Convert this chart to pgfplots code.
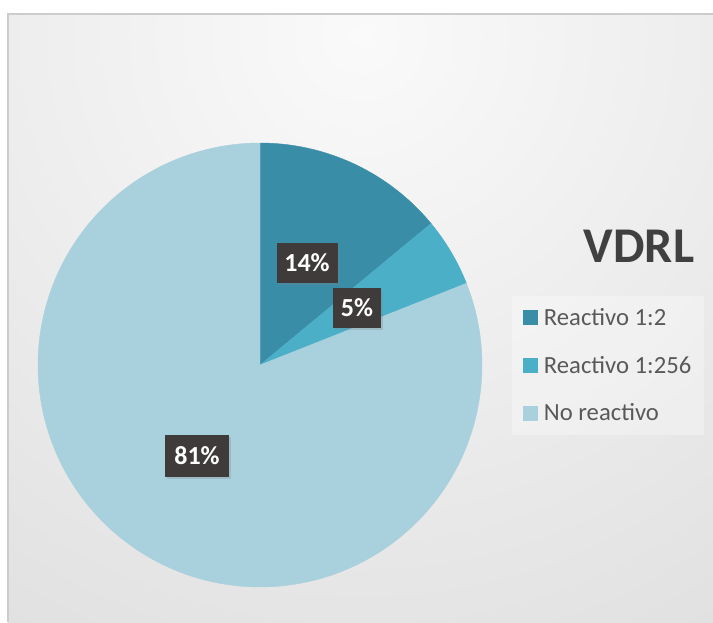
\documentclass[border=0pt]{standalone}
\usepackage{pgfplots}
\pgfplotsset{compat=1.18}
\usepackage{pgfplotstable}
\usepackage{fontspec}
\setmainfont{Carlito}
\usetikzlibrary{shadows}
\definecolor{cA}{HTML}{3A8DA6}
\definecolor{cB}{HTML}{4BAFC8}
\definecolor{cC}{HTML}{A9D0DD}
\definecolor{lblbg}{HTML}{3F3B3B}
\definecolor{titlec}{HTML}{404040}
\definecolor{legc}{HTML}{595959}

\pgfplotstableread{
value
14
5
81
}\piedata

\begin{document}
\begin{tikzpicture}
\pgfplotstablegetelem{0}{value}\of\piedata \edef\va{\pgfplotsretval}
\pgfplotstablegetelem{1}{value}\of\piedata \edef\vb{\pgfplotsretval}
\pgfmathsetmacro\aA{90-3.6*\va}
\pgfmathsetmacro\aB{\aA-3.6*\vb}
\useasboundingbox (0,0) rectangle (534.75pt,466.5pt);
\fill[white] (0,0) rectangle (534.75pt,466.5pt);
\begin{scope}
\clip (6pt,0) rectangle (534.75pt,456pt);
\shade[inner color=gray!4, outer color=gray!42] (270pt,440pt) circle (1000pt);
\end{scope}
\draw[gray!40, line width=0.8pt] (6pt,0) -- (6pt,456pt) -- (534.75pt,456pt);
\begin{axis}[at={(0,0)}, anchor=south west, scale only axis,
  width=534.75pt, height=466.5pt,
  xmin=0, xmax=713, ymin=0, ymax=622,
  hide axis, clip=false,
  legend style={at={(axis cs:512,326)}, anchor=north west, draw=none,
    fill=white, fill opacity=0.3, text opacity=1,
    font=\fontsize{18.5}{22}\selectfont, text=legc,
    inner xsep=8pt, inner ysep=7.5pt, row sep=18.5pt, nodes={inner sep=1.5pt}},
  legend cell align=left,
  legend image code/.code={\fill[#1, draw=none, fill opacity=1] (0pt,-5.6pt) rectangle (11.25pt,5.6pt);},
  /tikz/every odd column/.append style={column sep=3pt},
]
\addplot[fill=cA, draw=cA, line width=0.3pt, domain=\aA:90, samples=80, variable=\t]
  ({260+222*cos(\t)},{257+222*sin(\t)}) -- (axis cs:260,257) -- cycle;
\addlegendentry{Reactivo 1:2}
\addplot[fill=cB, draw=cB, line width=0.3pt, domain=\aB:\aA, samples=40, variable=\t]
  ({260+222*cos(\t)},{257+222*sin(\t)}) -- (axis cs:260,257) -- cycle;
\addlegendentry{Reactivo 1:256}
\addplot[fill=cC, draw=cC, line width=0.3pt, domain=-270:\aB, samples=300, variable=\t]
  ({260+222*cos(\t)},{257+222*sin(\t)}) -- (axis cs:260,257) -- cycle;
\addlegendentry{No reactivo}

\node[fill=lblbg, text=white, font=\bfseries\fontsize{19.5}{20}\selectfont,
  minimum width=45.75pt, minimum height=30pt, inner sep=0pt,
  drop shadow={shadow xshift=1.5pt, shadow yshift=-1.5pt, opacity=0.25}]
  at (axis cs:307,359) {14\%};
\node[fill=lblbg, text=white, font=\bfseries\fontsize{19.5}{20}\selectfont,
  minimum width=36pt, minimum height=30pt, inner sep=0pt,
  drop shadow={shadow xshift=1.5pt, shadow yshift=-1.5pt, opacity=0.25}]
  at (axis cs:357,314) {5\%};
\node[fill=lblbg, text=white, font=\bfseries\fontsize{19.5}{20}\selectfont,
  minimum width=48pt, minimum height=31.5pt, inner sep=0pt,
  drop shadow={shadow xshift=1.5pt, shadow yshift=-1.5pt, opacity=0.25}]
  at (axis cs:197,166) {81\%};
\node[font=\bfseries\fontsize{37.5}{40}\selectfont, text=titlec]
  at (axis cs:639,376) {VDRL};
\end{axis}
\end{tikzpicture}
\end{document}
